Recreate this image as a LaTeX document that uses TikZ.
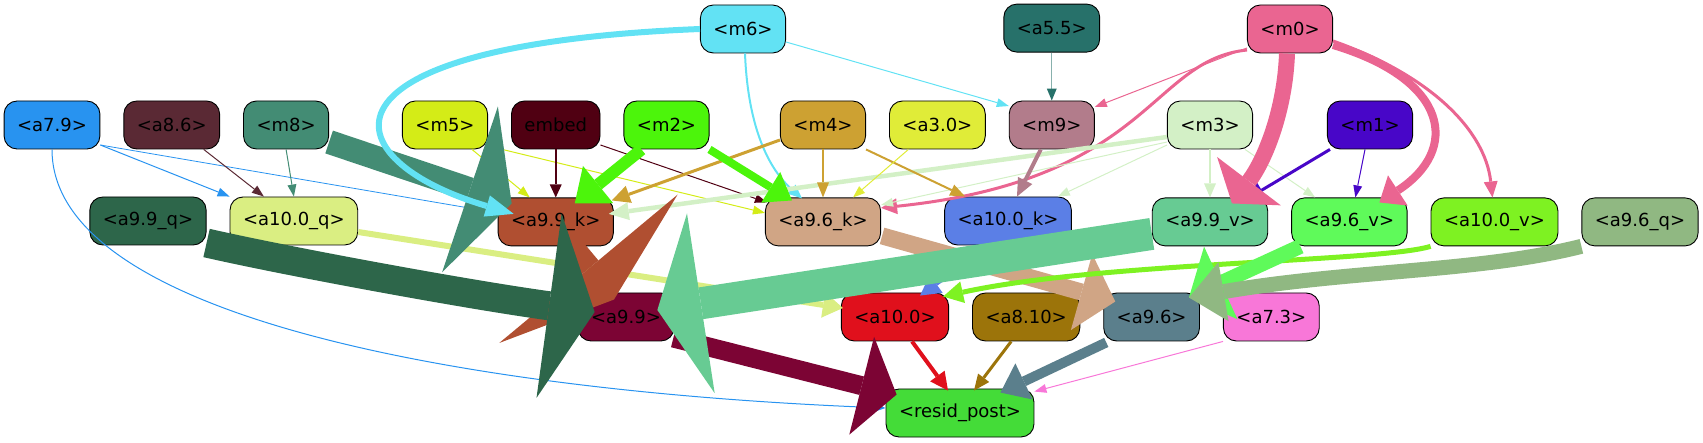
\documentclass[tikz,border=0pt]{standalone}
\usepackage{fontspec}
\setmainfont{DejaVu Sans}
\usepackage{xcolor}
\usetikzlibrary{arrows.meta, positioning}

\definecolor{cA79}{HTML}{2893F0}
\definecolor{cA86}{HTML}{5A2934}
\definecolor{cM8}{HTML}{438C74}
\definecolor{cM5}{HTML}{D4EC17}
\definecolor{cEmbed}{HTML}{500012}
\definecolor{cM2}{HTML}{4CF50B}
\definecolor{cM6}{HTML}{62E2F4}
\definecolor{cM4}{HTML}{CDA132}
\definecolor{cA30}{HTML}{E0EC38}
\definecolor{cA55}{HTML}{27716A}
\definecolor{cM9}{HTML}{B27C8B}
\definecolor{cM0}{HTML}{EA6591}
\definecolor{cM3}{HTML}{D3F0C6}
\definecolor{cM1}{HTML}{4806C8}
\definecolor{cA99q}{HTML}{2D664A}
\definecolor{cA100q}{HTML}{DAEE82}
\definecolor{cA99k}{HTML}{B04F31}
\definecolor{cA96k}{HTML}{D0A585}
\definecolor{cA100k}{HTML}{5B7FE6}
\definecolor{cA99v}{HTML}{67CB93}
\definecolor{cA96v}{HTML}{5FFA5A}
\definecolor{cA100v}{HTML}{7EF222}
\definecolor{cA96q}{HTML}{90B882}
\definecolor{cA99}{HTML}{7C0434}
\definecolor{cA100}{HTML}{E0101C}
\definecolor{cA810}{HTML}{9C740A}
\definecolor{cA96}{HTML}{5B7F8C}
\definecolor{cA73}{HTML}{F877D8}
\definecolor{cResid}{HTML}{44DC38}

\begin{document}
\begin{tikzpicture}[
    x=1pt, y=-1pt,
    node distance=23pt,
    box/.style={draw, rounded corners=13pt, minimum height=48pt, inner xsep=13pt, inner ysep=0pt, line width=0.9pt, font=\fontsize{18}{21}\selectfont},
    arr/.style={-{Triangle[length=12pt, width=9pt, line width=0pt]}, line width=1pt},
    fat/.style n args={3}{line width=#1, -{Triangle[length=#2, width=#3, line width=0pt]}}
]
\useasboundingbox (0,0) rectangle (1703,443);

% Inputs
\node[box, fill=cA79] (a79) at (52,125) {<a7.9>};
\node[box, fill=cA86, right=of a79] (a86) {<a8.6>};
\node[box, fill=cM8, right=of a86] (m8) {<m8>};
\node[box, fill=cM5] (m5) at (445,125) {<m5>};
\node[box, fill=cEmbed, right=of m5] (embed) {embed};
\node[box, fill=cM2, right=of embed] (m2) {<m2>};
\node[box, fill=cM4] (m4) at (823,125) {<m4>};
\node[box, fill=cA30, right=of m4] (a30) {<a3.0>};
\node[box, fill=cM9, right=of a30] (m9) {<m9>};
\node[box, fill=cM3] (m3) at (1210,125) {<m3>};
\node[box, fill=cM1] (m1) at (1370,125) {<m1>};

% Top row
\node[box, fill=cM6] (m6) at (743,29) {<m6>};
\node[box, fill=cA55, above=48pt of m9] (a55) {<a5.5>};
\node[box, fill=cM0] (m0) at (1290,29) {<m0>};

% q/k/v row
\node[box, fill=cA99q] (a99q) at (148,221) {<a9.9\_q>};
\node[box, fill=cA100q, right=of a99q] (a100q) {<a10.0\_q>};
\node[box, fill=cA99k, below=48pt of embed] (a99k) {<a9.9\_k>};
\node[box, fill=cA96k, below=48pt of m4] (a96k) {<a9.6\_k>};
\node[box, fill=cA100k] (a100k) at (1008,221) {<a10.0\_k>};
\node[box, fill=cA99v, below=48pt of m3] (a99v) {<a9.9\_v>};
\node[box, fill=cA96v, right=of a99v] (a96v) {<a9.6\_v>};
\node[box, fill=cA100v, right=of a96v] (a100v) {<a10.0\_v>};
\node[box, fill=cA96q, right=of a100v] (a96q) {<a9.6\_q>};

% Heads
\node[box, fill=cA99] (a99) at (626,317) {<a9.9>};
\node[box, fill=cA100] (a100) at (895,317) {<a10.0>};
\node[box, fill=cA810, right=of a100] (a810) {<a8.10>};
\node[box, fill=cA96, right=of a810] (a96) {<a9.6>};
\node[box, fill=cA73, right=of a96] (a73) {<a7.3>};

% Output
\node[box, fill=cResid] (resid) at (960,413) {<resid\_post>};

% Thin arrows
\draw[arr, cA79] (a79.south) .. controls (52,320) and (480,392) .. ([shift={(0,-5)}]resid.west);
\draw[arr, cA79] ([shift={(0,20)}]a79.east) -- (a100q.north west);
\draw[arr, cA79, line width=0.8pt] ([shift={(0,20)}]a79.east) -- ([shift={(0,-9)}]a99k.west);
\draw[arr, cA86] ([shift={(32,0)}]a86.south) -- ([shift={(-30,0)}]a100q.north);
\draw[arr, cM8] (m8.south) -- (a100q.north);
\draw[arr, cM5] ([shift={(27,0)}]m5.south) -- ([shift={(-26,0)}]a99k.north);
\draw[arr, cM5] ([shift={(0,21)}]m5.east) -- ([shift={(0,-9)}]a96k.west);
\draw[fat={2pt}{13pt}{12pt}, cEmbed] (embed) -- (a99k);
\draw[arr, cEmbed] ([shift={(0,20)}]embed.east) -- ([shift={(2,5)}]a96k.north west);
\draw[fat={2pt}{14pt}{12pt}, cM6] ([shift={(2,0)}]m6.south) .. controls (748,130) and (770,170) .. ([shift={(-21,1)}]a96k.north);
\draw[arr, cM6] ([shift={(0,13)}]m6.east) -- ([shift={(0,-19)}]m9.west);
\draw[arr, cA55!55, -{Triangle[length=12pt, width=10pt, line width=0pt, color=cA55]}] (a55) -- (m9);
\draw[arr, cM0] ([shift={(0,19)}]m0.west) -- ([shift={(0,-18)}]m9.east);
\draw[fat={3pt}{16pt}{16pt}, cM0] ([shift={(0,21)}]m0.west) .. controls (1150,60) and (1150,180) .. ([shift={(0,-14)}]a96k.east);
\draw[fat={3pt}{16pt}{14pt}, cM0] ([shift={(0,12)}]m0.east) .. controls (1430,75) and (1485,130) .. ([shift={(-2,0)}]a100v.north);
\draw[fat={2pt}{14pt}{12pt}, cM3] (m3) -- (a99v);
\draw[arr, cM3] ([shift={(-8,0)}]m3.south east) -- ([shift={(24,0)}]a96v.north west);
\draw[arr, cM3] ([shift={(0,20)}]m3.west) -- ([shift={(-14,0)}]a100k.north east);
\draw[arr, cM3] ([shift={(0,17)}]m3.west) -- ([shift={(0,-17)}]a96k.east);
\draw[fat={4.5pt}{20pt}{18pt}, cM3] ([shift={(0,12)}]m3.west) -- ([shift={(-5,-8)}]a99k.east);
\draw[fat={3pt}{18pt}{18pt}, cM1] ([shift={(3,0)}]m1.south west) -- ([shift={(-22,2)}]a99v.north east);
\draw[arr, cM1] ([shift={(-5,0)}]m1.south) -- ([shift={(6,0)}]a96v.north);
\draw[fat={3pt}{18pt}{18pt}, cM4] ([shift={(0,15)}]m4.west) -- ([shift={(-2,3)}]a99k.north east);
\draw[fat={2pt}{15pt}{12pt}, cM4] (m4) -- (a96k);
\draw[fat={2pt}{15pt}{12pt}, cM4] (m4.south east) -- ([shift={(21,0)}]a100k.north west);
\draw[arr, cA30] ([shift={(-29,0)}]a30.south) -- ([shift={(30,0)}]a96k.north);
\draw[fat={4pt}{18pt}{16pt}, cM9] ([shift={(-11,0)}]m9.south) -- ([shift={(9,0)}]a100k.north);
\draw[arr, cA73] (a73.south west) -- ([shift={(0,3)}]resid.north east);
\draw[fat={4pt}{18pt}{18pt}, cA100] ([shift={(17,0)}]a100.south) -- ([shift={(-12,2)}]resid.north);
\draw[fat={3pt}{16pt}{14pt}, cA810] ([shift={(-15,0)}]a810.south) -- ([shift={(14,2)}]resid.north);

% Heavy arrows
\draw[fat={6pt}{20pt}{26pt}, cA100q] ([shift={(0,11)}]a100q.east) -- ([shift={(2,-9)}]a100.west);
\draw[fat={24pt}{44pt}{175pt}, cM8] ([shift={(0,17)}]m8.east) -- ([shift={(14,6)}]a99k.north west);
\draw[fat={6pt}{28pt}{22pt}, cM6] (m6.west) .. controls (300,45) and (330,160) .. ([shift={(16,-8)}]a99k.west);
\draw[fat={12pt}{30pt}{48pt}, cM2] ([shift={(-25,0)}]m2.south) -- ([shift={(19,6)}]a99k.north);
\draw[fat={8pt}{25pt}{36pt}, cM2] (m2.south east) -- ([shift={(-31,3)}]a96k.north);
\draw[fat={26pt}{40pt}{232pt}, cA99k] ([shift={(14,0)}]a99k.south) -- ([shift={(-12,7)}]a99.north);
\draw[fat={29pt}{46pt}{186pt}, cA99q] ([shift={(0,22)}]a99q.east) .. controls (290,262) and (470,295) .. ([shift={(17,-5)}]a99.west);
\draw[fat={19pt}{36pt}{101pt}, cA99] ([shift={(-1,21)}]a99.east) -- ([shift={(11,6)}]resid.north west);
\draw[fat={17pt}{35pt}{79pt}, cA96k] ([shift={(1,14)}]a96k.east) -- ([shift={(12,9)}]a96.north west);
\draw[fat={4pt}{20pt}{22pt}, cA100k] ([shift={(-18,0)}]a100k.south) -- ([shift={(25,3)}]a100.north);
\draw[fat={5pt}{20pt}{22pt}, cA100v] (a100v.south west) .. controls (1380,262) and (1100,262) .. ([shift={(-6,4)}]a100.north east);
\draw[fat={32pt}{44pt}{182pt}, cA99v] ([shift={(0,12)}]a99v.west) -- ([shift={(-17,-7)}]a99.east);
\draw[fat={10pt}{26pt}{40pt}, cA96] ([shift={(3,1)}]a96.south west) -- ([shift={(-34,4)}]resid.north east);
\draw[fat={15pt}{35pt}{80pt}, cA96v] ([shift={(-49,0)}]a96v.south) -- ([shift={(-11,5)}]a96.north east);
\draw[fat={15pt}{35pt}{60pt}, cA96q] (a96q.south west) .. controls (1480,272) and (1350,270) .. ([shift={(-11,5)}]a96.north east);
\draw[fat={16pt}{28pt}{80pt}, cM0] ([shift={(-3,0)}]m0.south) .. controls (1285,110) and (1265,160) .. ([shift={(22,6)}]a99v.north);
\draw[fat={8pt}{22pt}{36pt}, cM0] ([shift={(0,16)}]m0.east) .. controls (1450,80) and (1460,150) .. ([shift={(30,5)}]a96v.north);

\end{tikzpicture}
\end{document}
